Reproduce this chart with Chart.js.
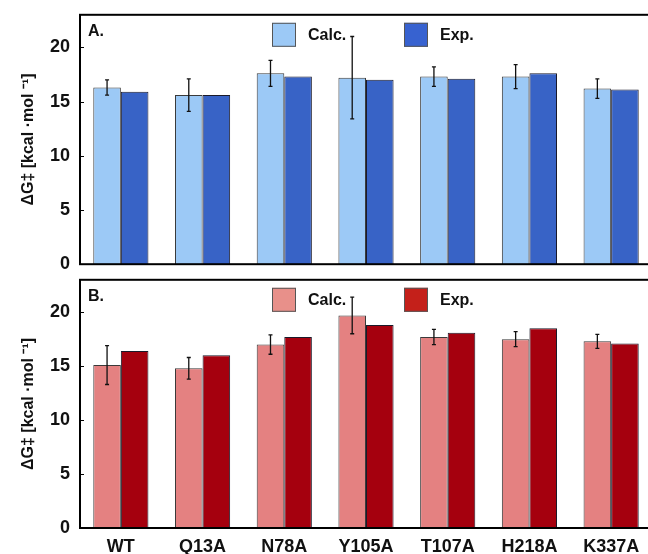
<!DOCTYPE html>
<html>
<head>
<meta charset="utf-8">
<script src="https://cdn.jsdelivr.net/npm/chart.js"></script>
<style>
  html, body { margin: 0; padding: 0; background: #fff; overflow: hidden; }
  #wrap { position: relative; width: 648px; height: 554px; overflow: hidden; }
  .panel { position: absolute; left: 0; width: 652px; }
  #panelA { top: 2px; height: 275px; }
  #panelB { top: 267px; height: 287px; }
</style>
</head>
<body>
<div id="wrap">
  <div class="panel" id="panelA"><canvas id="chartA"></canvas></div>
  <div class="panel" id="panelB"><canvas id="chartB"></canvas></div>
</div>
<script>
// Data
const mutants = ['WT', 'Q13A', 'N78A', 'Y105A', 'T107A', 'H218A', 'K337A'];
const yTicks = [0, 5, 10, 15, 20];

// Panel A
const calcA = [16.3, 15.6, 17.6, 17.2, 17.3, 17.3, 16.2];
const calcErrA = [0.7, 1.5, 1.2, 3.8, 0.9, 1.1, 0.9];
const expA = [15.9, 15.6, 17.3, 17.0, 17.1, 17.6, 16.1];

// Panel B
const calcB = [15.1, 14.8, 17.0, 19.7, 17.7, 17.5, 17.3];
const calcErrB = [1.8, 1.0, 0.9, 1.7, 0.7, 0.7, 0.65];
const expB = [16.4, 16.0, 17.7, 18.8, 18.1, 18.5, 17.1];

const FONT = '"Liberation Sans", Arial, Helvetica, sans-serif';

// Error bars on the Calc. dataset
const errorBarPlugin = {
  id: 'errorBars',
  afterDatasetsDraw(chart, args, opts) {
    const ctx = chart.ctx;
    const meta = chart.getDatasetMeta(0);
    const y = chart.scales.y;
    const vals = chart.data.datasets[0].data;
    ctx.save();
    ctx.strokeStyle = '#111';
    ctx.lineWidth = 1.3;
    meta.data.forEach(function(bar, i) {
      const err = opts.errors[i];
      const top = y.getPixelForValue(vals[i] + err);
      const bot = y.getPixelForValue(vals[i] - err);
      ctx.beginPath();
      ctx.moveTo(bar.x, top);
      ctx.lineTo(bar.x, bot);
      ctx.moveTo(bar.x - 2, top);
      ctx.lineTo(bar.x + 2, top);
      ctx.moveTo(bar.x - 2, bot);
      ctx.lineTo(bar.x + 2, bot);
      ctx.stroke();
    });
    ctx.restore();
  }
};

// Frame, inward ticks, panel letter and in-plot legend
const framePlugin = {
  id: 'frame',
  afterDraw(chart, args, opts) {
    const ctx = chart.ctx;
    const a = chart.chartArea;
    const y = chart.scales.y;
    ctx.save();
    ctx.strokeStyle = '#000';
    ctx.lineWidth = 2;
    ctx.strokeRect(a.left, a.top, a.right - a.left + 10, a.bottom - a.top);

    ctx.lineWidth = 1;
    ctx.beginPath();
    yTicks.forEach(function(v) {
      const py = Math.round(y.getPixelForValue(v)) + 0.5;
      ctx.moveTo(a.left, py);
      ctx.lineTo(a.left + 4, py);
    });
    ctx.stroke();

    ctx.fillStyle = '#111';
    ctx.font = 'bold 16px ' + FONT;
    ctx.textBaseline = 'middle';
    ctx.textAlign = 'left';
    ctx.fillText(opts.letter, a.left + 8, a.top + 17);

    // legend entries
    const xs = [272, 404];
    chart.data.datasets.forEach(function(ds, i) {
      const sx = xs[i];
      const sy = a.top + 8;
      ctx.fillStyle = opts.swatches[i];
      ctx.fillRect(sx, sy, 24, 24);
      ctx.strokeStyle = '#555';
      ctx.lineWidth = 1;
      ctx.strokeRect(sx + 0.5, sy + 0.5, 23, 23);
      ctx.fillStyle = '#111';
      ctx.fillText(ds.label, sx + 36, sy + 13);
    });
    ctx.restore();
  }
};

function makePanel(canvasId, calc, err, exp, colors, letter, showX) {
  const axisH = showX ? 26 : 9;
  return new Chart(document.getElementById(canvasId), {
    type: 'bar',
    data: {
      labels: mutants,
      datasets: [
        {
          label: 'Calc.',
          data: calc,
          backgroundColor: colors.calc,
          borderColor: '#3a3a3a',
          borderWidth: 1,
          borderSkipped: 'bottom'
        },
        {
          label: 'Exp.',
          data: exp,
          backgroundColor: colors.exp,
          borderColor: '#1a1a2a',
          borderWidth: 1,
          borderSkipped: 'bottom'
        }
      ]
    },
    options: {
      responsive: true,
      maintainAspectRatio: false,
      animation: false,
      layout: { padding: 0 },
      datasets: {
        bar: { categoryPercentage: 0.675, barPercentage: 1.0 }
      },
      plugins: {
        legend: { display: false },
        tooltip: { enabled: false },
        errorBars: { errors: err },
        frame: { letter: letter, swatches: [colors.calcLegend, colors.expLegend] }
      },
      scales: {
        x: {
          grid: { display: false },
          border: { display: false },
          ticks: {
            display: showX,
            color: '#111',
            padding: 0,
            font: { family: FONT, size: 18, weight: 'bold' }
          },
          afterFit: function(scale) { scale.height = axisH; }
        },
        y: {
          min: 0,
          max: 23,
          border: { display: false },
          grid: { display: false },
          afterBuildTicks: function(scale) {
            scale.ticks = yTicks.map(function(v) { return { value: v }; });
          },
          ticks: {
            color: '#111',
            padding: 2,
            font: { family: FONT, size: 18, weight: 'bold' }
          },
          title: {
            display: true,
            text: 'ΔG‡ [kcal ·mol ⁻¹]',
            color: '#111',
            padding: { top: 19, bottom: 0 },
            font: { family: FONT, size: 16, weight: 'bold' }
          },
          afterFit: function(scale) { scale.width = 80; }
        }
      }
    },
    plugins: [errorBarPlugin, framePlugin]
  });
}

makePanel('chartA', calcA, calcErrA, expA, {
  calc: '#9cc9f6', exp: '#3863c6', calcLegend: '#9cc9f6', expLegend: '#3762d0'
}, 'A.', false);

makePanel('chartB', calcB, calcErrB, expB, {
  calc: '#e48181', exp: '#a5000e', calcLegend: '#e8908a', expLegend: '#c4201a'
}, 'B.', true);
</script>
</body>
</html>
